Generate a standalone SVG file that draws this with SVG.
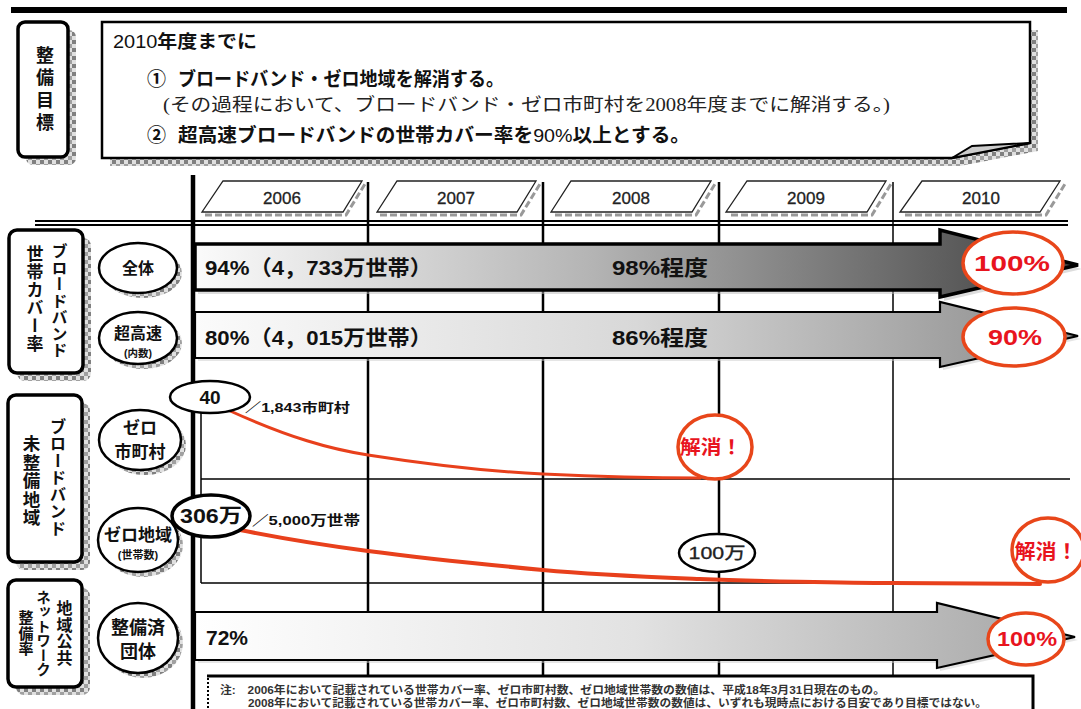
<svg xmlns="http://www.w3.org/2000/svg" width="1081" height="709" viewBox="0 0 1081 709">
<style>
.g{font-family:"Liberation Sans","Noto Sans CJK JP",sans-serif;font-weight:bold;fill:#111}
.n{font-family:"Liberation Sans","Noto Sans CJK JP",sans-serif;fill:#222}
.s{font-family:"Liberation Serif","Noto Sans CJK JP",serif;fill:#222}
.v{writing-mode:vertical-rl;text-orientation:upright}
.red{fill:#e8141e}
.re{fill:#fff;stroke:#e8461a;stroke-width:3.5}
.be{fill:#fff;stroke:#000;stroke-width:2.5}
.lb{fill:#fff;stroke:#000;stroke-width:3.5}
.col{stroke:#000;stroke-width:2.5}
.yr{fill:#fff;stroke:#222;stroke-width:1.3}
.ysh{fill:none;stroke:#999;stroke-width:3;stroke-dasharray:7 3}
.curve{fill:none;stroke:#e8401c;stroke-linecap:round}
.c{text-anchor:middle}
.note{font-family:"Liberation Sans","Noto Sans CJK JP",sans-serif;font-weight:bold;fill:#333}
</style>
<defs>
<pattern id="chk" width="8" height="8" patternUnits="userSpaceOnUse">
<rect width="8" height="8" fill="#e0e0e0"/>
<rect width="4" height="4" fill="#808080"/>
<rect x="4" y="4" width="4" height="4" fill="#a0a0a0"/>
</pattern>
<linearGradient id="g1" x1="195" y1="0" x2="1078" y2="0" gradientUnits="userSpaceOnUse">
<stop offset="0" stop-color="#fbfbfb"/><stop offset="0.45" stop-color="#b4b4b4"/><stop offset="1" stop-color="#3e3e3e"/>
</linearGradient>
<linearGradient id="g2" x1="195" y1="0" x2="1078" y2="0" gradientUnits="userSpaceOnUse">
<stop offset="0" stop-color="#fbfbfb"/><stop offset="0.5" stop-color="#d8d8d8"/><stop offset="1" stop-color="#8a8a8a"/>
</linearGradient>
<linearGradient id="g3" x1="195" y1="0" x2="1075" y2="0" gradientUnits="userSpaceOnUse">
<stop offset="0" stop-color="#ffffff"/><stop offset="0.5" stop-color="#e2e2e2"/><stop offset="1" stop-color="#a4a4a4"/>
</linearGradient>
</defs>
<rect width="1081" height="709" fill="#fff"/>
<rect x="11" y="7" width="1056" height="6" fill="#000"/>

<g id="goal-label">
<rect x="26" y="30" width="50" height="135" rx="7" fill="url(#chk)"/>
<rect x="18" y="22" width="50" height="135" rx="7" class="lb"/>
<text x="43" y="46" class="g v" font-size="18" letter-spacing="4.5">整備目標</text>
</g>

<g id="goal-box">
<path d="M110,30 H1038 V151 L960,166 H110 Z" fill="url(#chk)"/>
<path d="M102,22 H1030 V143 L952,158 H102 Z" fill="#fff" stroke="#000" stroke-width="2.5"/>
<path d="M952,158 L972,146 L1030,143 Z" fill="#ccc" stroke="#000" stroke-width="2"/>
<text x="113" y="48" font-size="18" class="g" textLength="144" lengthAdjust="spacingAndGlyphs"><tspan font-weight="normal">2010</tspan>年度までに</text>
<text x="147" y="86" font-size="19" class="g">①</text>
<text x="178" y="86" font-size="19" class="g" textLength="326" lengthAdjust="spacingAndGlyphs">ブロードバンド・ゼロ地域を解消する。</text>
<text x="163" y="111" font-size="18" class="s" textLength="727" lengthAdjust="spacingAndGlyphs">(その過程において、ブロードバンド・ゼロ市町村を2008年度までに解消する。)</text>
<text x="147" y="142" font-size="19" class="g">②</text>
<text x="178" y="142" font-size="19" class="g" textLength="512" lengthAdjust="spacingAndGlyphs">超高速ブロードバンドの世帯カバー率を<tspan font-weight="normal">90%</tspan>以上とする。</text>
</g>

<g id="grid">
<line x1="35" y1="221" x2="1068" y2="221" stroke="#000" stroke-width="1.8"/>
<line x1="35" y1="225" x2="1068" y2="225" stroke="#000" stroke-width="1.8"/>
<line x1="368" y1="182" x2="368" y2="676" class="col"/>
<line x1="543" y1="182" x2="543" y2="676" class="col"/>
<line x1="719" y1="182" x2="719" y2="676" class="col"/>
<line x1="893" y1="182" x2="893" y2="676" stroke="#000" stroke-width="1.5"/>
<line x1="201" y1="384" x2="201" y2="583" stroke="#000" stroke-width="1.5"/>
<line x1="201" y1="479" x2="1070" y2="479" stroke="#000" stroke-width="1.3"/>
<line x1="201" y1="583" x2="1040" y2="583" stroke="#000" stroke-width="1.3"/>
</g>

<g id="years">
<polyline points="205,215 346,215 365,184" class="ysh"/>
<polygon points="223,181 362,181 343,212 202,212" class="yr"/>
<text x="282" y="204" font-size="17" class="n c" stroke="#222" stroke-width="0.3">2006</text>
<polyline points="380,215 521,215 540,184" class="ysh"/>
<polygon points="397,181 536,181 517,212 377,212" class="yr"/>
<text x="456" y="204" font-size="17" class="n c" stroke="#222" stroke-width="0.3">2007</text>
<polyline points="555,215 696,215 715,184" class="ysh"/>
<polygon points="571,181 711,181 692,212 551,212" class="yr"/>
<text x="631" y="204" font-size="17" class="n c" stroke="#222" stroke-width="0.3">2008</text>
<polyline points="731,215 872,215 891,184" class="ysh"/>
<polygon points="747,181 886,181 867,212 726,212" class="yr"/>
<text x="806" y="204" font-size="17" class="n c" stroke="#222" stroke-width="0.3">2009</text>
<polyline points="905,215 1046,215 1065,184" class="ysh"/>
<polygon points="922,181 1060,181 1040,212 900,212" class="yr"/>
<text x="981" y="204" font-size="17" class="n c" stroke="#222" stroke-width="0.3">2010</text>
</g>

<g id="label-coverage">
<rect x="17" y="238" width="74" height="143" rx="8" fill="url(#chk)"/>
<rect x="9" y="230" width="74" height="143" rx="8" class="lb"/>
<text x="58" y="243" class="g v" font-size="16" letter-spacing="0.5">ブロードバンド</text>
<text x="33" y="245" class="g v" font-size="17" letter-spacing="1">世帯カバー率</text>
</g>
<g id="label-unserved">
<rect x="16" y="403" width="74" height="167" rx="8" fill="url(#chk)"/>
<rect x="8" y="395" width="74" height="167" rx="8" class="lb"/>
<text x="57" y="418" class="g v" font-size="16.5" letter-spacing="0.5">ブロードバンド</text>
<text x="30" y="435" class="g v" font-size="17.5" letter-spacing="1">未整備地域</text>
</g>
<g id="label-network">
<rect x="16" y="588" width="74" height="107" rx="8" fill="url(#chk)"/>
<rect x="8" y="580" width="74" height="107" rx="8" class="lb"/>
<text x="63" y="600" class="g v" font-size="16" letter-spacing="0.7">地域公共</text>
<text x="42" y="590" class="g v" font-size="14.5">ネットワーク</text>
<text x="25" y="610" class="g v" font-size="15" letter-spacing="0.5">整備率</text>
</g>

<g id="oval-all">
<ellipse cx="143" cy="273" rx="39" ry="25" fill="url(#chk)"/>
<ellipse cx="138" cy="268" rx="39" ry="25" class="be"/>
<text x="138" y="274" font-size="16" class="g c">全体</text>
</g>
<g id="oval-ultra">
<ellipse cx="143" cy="343" rx="39" ry="26" fill="url(#chk)"/>
<ellipse cx="138" cy="338" rx="39" ry="26" class="be"/>
<text x="138" y="339" font-size="16" class="g c">超高速</text>
<text x="138" y="357" font-size="10.5" class="g c">(内数)</text>
</g>
<g id="oval-zero-muni">
<ellipse cx="145" cy="445" rx="41" ry="30" fill="url(#chk)"/>
<ellipse cx="140" cy="440" rx="41" ry="30" class="be"/>
<text x="140" y="434" font-size="17" class="g c">ゼロ</text>
<text x="140" y="458" font-size="17" class="g c">市町村</text>
</g>
<g id="oval-zero-area">
<ellipse cx="143" cy="545" rx="40" ry="32" fill="url(#chk)"/>
<ellipse cx="138" cy="540" rx="40" ry="32" class="be"/>
<text x="138" y="541" font-size="17" class="g c">ゼロ地域</text>
<text x="138" y="559" font-size="11" class="g c">(世帯数)</text>
</g>
<g id="oval-network">
<ellipse cx="143" cy="643" rx="40" ry="35" fill="url(#chk)"/>
<ellipse cx="138" cy="638" rx="40" ry="35" class="be"/>
<text x="138" y="634" font-size="18" class="g c">整備済</text>
<text x="138" y="658" font-size="18" class="g c">団体</text>
</g>

<g id="connectors">
<path d="M198,248 H944 V234 L1082,269 L944,301 V294 H198 Z" fill="#bbb" opacity="0.5"/>
<path d="M195,244 H940 V230 L1078,265 L940,297 V290 H195 Z" fill="url(#g1)" stroke="#000" stroke-width="3.5" stroke-linejoin="miter"/>
<path d="M198,315 H943 V305 L1081,339 L943,370 V361 H198 Z" fill="#ccc" opacity="0.5"/>
<path d="M195,312 H940 V302 L1078,336 L940,367 V358 H195 Z" fill="url(#g2)" stroke="#000" stroke-width="2.2"/>
<path d="M198,615 H940 V606 L1078,640 L940,671 V663 H198 Z" fill="#ccc" opacity="0.5"/>
<path d="M195,612 H937 V603 L1075,637 L937,668 V660 H195 Z" fill="url(#g3)" stroke="#000" stroke-width="2.2"/>
<path d="M228,410 C290,438 330,449 368,455 S480,471 543,474 S650,478 700,478" class="curve" stroke-width="3"/>
<path d="M240,530 C290,540 330,546 368,551 S490,565 543,570 S650,577 700,579 S850,583 893,583 L1040,584" class="curve" stroke-width="4"/>
</g>
<line x1="193" y1="175" x2="193" y2="709" stroke="#000" stroke-width="4.5"/>

<g id="row-all-text">
<text x="205" y="275" font-size="21" class="g" textLength="227" lengthAdjust="spacingAndGlyphs">94%（4，733万世帯）</text>
<text x="612" y="275" font-size="21" class="g" textLength="96" lengthAdjust="spacingAndGlyphs">98%程度</text>
</g>
<g id="row-ultra-text">
<text x="205" y="345" font-size="21" class="g" textLength="227" lengthAdjust="spacingAndGlyphs">80%（4，015万世帯）</text>
<text x="612" y="345" font-size="21" class="g" textLength="96" lengthAdjust="spacingAndGlyphs">86%程度</text>
</g>
<g id="row-network-text">
<text x="206" y="645" font-size="21" class="g">72%</text>
</g>

<g id="target-100">
<ellipse cx="1013" cy="263" rx="50" ry="31" class="re"/>
<text x="1012" y="271" font-size="22" class="g red c" textLength="76" lengthAdjust="spacingAndGlyphs">100%</text>
</g>
<g id="target-90">
<ellipse cx="1014" cy="337" rx="51" ry="29" class="re"/>
<text x="1015" y="345" font-size="22" class="g red c" textLength="54" lengthAdjust="spacingAndGlyphs">90%</text>
</g>
<g id="target-network">
<ellipse cx="1026" cy="639" rx="38" ry="26" class="re"/>
<text x="1027" y="646" font-size="21" class="g red c" textLength="60" lengthAdjust="spacingAndGlyphs">100%</text>
</g>
<g id="resolved-muni">
<ellipse cx="715" cy="447" rx="37" ry="32" class="re"/>
<text x="711" y="454" font-size="19" class="g red c" textLength="62" lengthAdjust="spacingAndGlyphs">解消！</text>
</g>
<g id="resolved-area">
<ellipse cx="1048" cy="550" rx="36" ry="32" class="re"/>
<text x="1046" y="559" font-size="20" class="g red c" textLength="63" lengthAdjust="spacingAndGlyphs">解消！</text>
</g>

<g id="start-40">
<ellipse cx="210" cy="397" rx="40" ry="16" class="be"/>
<text x="210" y="404" font-size="19" class="g c">40</text>
<text x="245" y="412" font-size="13" class="g" textLength="105" lengthAdjust="spacingAndGlyphs">／1,843市町村</text>
</g>
<g id="start-306">
<ellipse cx="211" cy="516" rx="39" ry="21" fill="#fff" stroke="#000" stroke-width="3.5"/>
<text x="211" y="523" font-size="20" class="g c" textLength="62" lengthAdjust="spacingAndGlyphs">306万</text>
<text x="252" y="525" font-size="13.5" class="g" textLength="108" lengthAdjust="spacingAndGlyphs">／5,000万世帯</text>
</g>
<g id="mid-100man">
<ellipse cx="717" cy="553" rx="38" ry="19" class="be"/>
<text x="717" y="559" font-size="17" class="n c" stroke="#222" stroke-width="0.3" textLength="57" lengthAdjust="spacingAndGlyphs">100万</text>
</g>

<g id="note">
<rect x="207" y="676" width="826" height="40" fill="#fff"/>
<path d="M207,676 H1033 V709" fill="none" stroke="#000" stroke-width="3"/>
<line x1="208" y1="678" x2="208" y2="709" stroke="#000" stroke-width="2" stroke-dasharray="2 2"/>
<text x="220" y="694" font-size="11" class="note" textLength="665" lengthAdjust="spacingAndGlyphs">注:　2006年において記載されている世帯カバー率、ゼロ市町村数、ゼロ地域世帯数の数値は、平成18年3月31日現在のもの。</text>
<text x="248" y="707" font-size="11" class="note" textLength="739" lengthAdjust="spacingAndGlyphs">2008年において記載されている世帯カバー率、ゼロ市町村数、ゼロ地域世帯数の数値は、いずれも現時点における目安であり目標ではない。</text>
</g>
</svg>
